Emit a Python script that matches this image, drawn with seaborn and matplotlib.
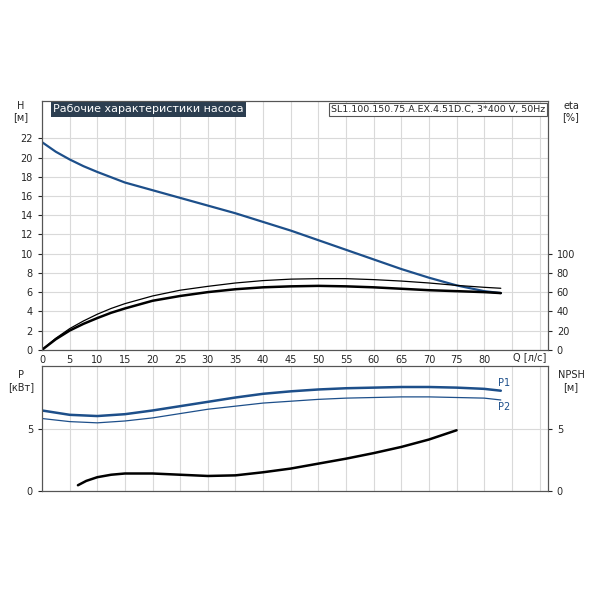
import numpy as np
import pandas as pd
import seaborn as sns
import matplotlib.pyplot as plt

sns.set_style("white")

# Q-H curve
q_h = [0, 2.5, 5, 7.5, 10, 15, 20, 25, 30, 35, 40, 45, 50, 55, 60, 65, 70, 75, 80, 83]
h = [21.6, 20.6, 19.8, 19.1, 18.5, 17.4, 16.6, 15.8, 15.0, 14.2, 13.3, 12.4, 11.4, 10.4, 9.4, 8.4, 7.5, 6.7, 6.1, 5.9]
# efficiency curves [%]
q_eta = [0, 2.5, 5, 7.5, 10, 12.5, 15, 20, 25, 30, 35, 40, 45, 50, 55, 60, 65, 70, 75, 80, 83]
eta_hyd = [0, 12, 22, 30, 37, 43, 48, 56, 62, 66, 69.5, 72, 73.5, 74, 74, 73, 71.5, 69.5, 67, 65, 64]
eta_tot = [0, 11, 20, 27, 33, 38.5, 43, 51, 56, 60, 63, 65, 66, 66.5, 66, 65, 63.5, 62, 61, 60, 59]
# power
q_p = [0, 5, 10, 15, 20, 25, 30, 35, 40, 45, 50, 55, 60, 65, 70, 75, 80, 83]
p1 = [6.5, 6.15, 6.05, 6.2, 6.5, 6.85, 7.2, 7.55, 7.85, 8.05, 8.2, 8.3, 8.35, 8.4, 8.4, 8.35, 8.25, 8.1]
p2 = [5.85, 5.6, 5.5, 5.65, 5.9, 6.25, 6.6, 6.85, 7.1, 7.25, 7.4, 7.5, 7.55, 7.6, 7.6, 7.55, 7.5, 7.35]
# NPSH
q_npsh = [6.5, 8, 10, 12.5, 15, 20, 25, 30, 35, 40, 45, 50, 55, 60, 65, 70, 75]
npsh = [0.45, 0.8, 1.1, 1.3, 1.4, 1.4, 1.3, 1.2, 1.25, 1.5, 1.8, 2.2, 2.6, 3.05, 3.55, 4.15, 4.9]

title = "Рабочие характеристики насоса"
model = "SL1.100.150.75.A.EX.4.51D.C, 3*400 V, 50Hz"

blue = "#1d4f8a"
gcol = "#d9d9d9"
fs = 7

fig = plt.figure(figsize=(6, 6), dpi=100)
ax = fig.add_axes([0.07, 0.417, 0.843, 0.415])
axb = fig.add_axes([0.07, 0.182, 0.843, 0.208])

qmax = 91.5

# top panel
sns.lineplot(x=q_h, y=h, ax=ax, color=blue, lw=1.6)
ax2 = ax.twinx()
sns.lineplot(x=q_eta, y=eta_hyd, ax=ax2, color="black", lw=0.9)
sns.lineplot(x=q_eta, y=eta_tot, ax=ax2, color="black", lw=1.8)
ax.set_xlim(0, qmax)
ax.set_ylim(0, 25.9)
ax2.set_ylim(0, 259)
ax.set_xticks(range(0, 95, 5))
ax.set_xticklabels([str(v) for v in range(0, 85, 5)] + ["", ""], fontsize=fs)
ax.set_yticks(range(0, 23, 2))
ax2.set_yticks(range(0, 101, 20))
ax.tick_params(axis="y", labelsize=fs, length=3)
ax.tick_params(axis="x", length=3, pad=1)
ax2.tick_params(axis="y", labelsize=fs, length=3)
ax.grid(True, color=gcol, lw=0.8)
ax.set_axisbelow(True)
ax.text(qmax - 0.3, -0.8, "Q [л/с]", fontsize=fs, ha="right", va="center")
ax.text(-3.8, 24.8, "H\n[м]", fontsize=fs, ha="center", va="center")
ax2.text(qmax + 4.2, 248, "eta\n[%]", fontsize=fs, ha="center", va="center")
ax.text(2.0, 25.0, title, fontsize=8, color="white", va="center",
        bbox=dict(facecolor="#2c3e50", edgecolor="none", pad=1.5))
ax.text(qmax - 0.5, 25.0, model, fontsize=6.8, ha="right", va="center",
        bbox=dict(facecolor="white", edgecolor="#555555", lw=0.8, pad=1.5))

# bottom panel
sns.lineplot(x=q_p, y=p1, ax=axb, color=blue, lw=1.8)
sns.lineplot(x=q_p, y=p2, ax=axb, color=blue, lw=0.9)
axb2 = axb.twinx()
sns.lineplot(x=q_npsh, y=npsh, ax=axb2, color="black", lw=1.8)
axb.set_xlim(0, qmax)
axb.set_ylim(0, 10.1)
axb2.set_ylim(0, 10.1)
axb.set_xticks(range(0, 95, 5))
axb.set_xticklabels([])
axb.tick_params(axis="x", length=0)
axb.set_yticks([0, 5])
axb2.set_yticks([0, 5])
axb.tick_params(axis="y", labelsize=fs, length=3)
axb2.tick_params(axis="y", labelsize=fs, length=3)
axb.grid(True, color=gcol, lw=0.8)
axb.set_axisbelow(True)
axb.text(82.5, 8.75, "P1", fontsize=fs, color=blue, va="center")
axb.text(82.5, 6.8, "P2", fontsize=fs, color=blue, va="center")
axb.text(-3.8, 8.9, "P\n[кВт]", fontsize=fs, ha="center", va="center")
axb2.text(qmax + 4.2, 8.9, "NPSH\n[м]", fontsize=fs, ha="center", va="center")

for a in (ax, ax2, axb, axb2):
    for s in a.spines.values():
        s.set_color("#555555")
        s.set_linewidth(0.8)

fig.savefig("out.png", dpi=100)
